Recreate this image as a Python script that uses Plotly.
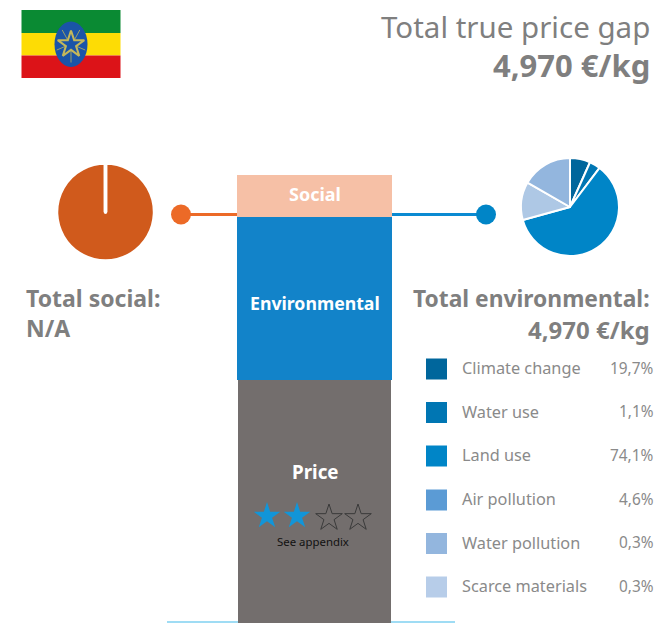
import math
import plotly.graph_objects as go

W, H = 659, 623
GREY = "#7f7f7f"
FONT = "Noto Sans"

bar_names = ["Price", "Environmental", "Social"]
bar_values = [243, 163, 42]
bar_colors = ["#736e6d", "#1283c9", "#f6c0a6"]
bar_widths = [153, 155, 155]

env_labels = ["Climate change", "Water use", "Land use", "Scarce materials", "Water pollution"]
env_values = [6.7, 3.6, 60.4, 12.6, 16.7]
env_colors = ["#00669c", "#0076b3", "#0085c7", "#aec8e5", "#93b6de"]

social_labels = ["Social", "Gap"]
social_values = [99.99, 0.01]

legend_labels = ["Climate change", "Water use", "Land use", "Air pollution", "Water pollution", "Scarce materials"]
legend_values = ["19,7%", "1,1%", "74,1%", "4,6%", "0,3%", "0,3%"]
legend_colors = ["#00669c", "#0076b3", "#0085c7", "#5b9bd5", "#93b6de", "#b7cde9"]
legend_rows = [369, 412.5, 456, 500, 543.5, 587]

star_x = [267, 297, 329, 358]
star_rows = [516, 516, 518, 518]


def Y(p):
    return H - p


def pie_domain(cx, cy, r):
    return dict(x=[(cx - r) / W, (cx + r) / W], y=[1 - (cy + r) / H, 1 - (cy - r) / H])


fig = go.Figure()

for n, v, c, w in zip(bar_names, bar_values, bar_colors, bar_widths):
    fig.add_trace(go.Bar(x=[314.5], y=[v], width=[w], name=n, marker=dict(color=c, line=dict(width=0))))

# connectors
fig.add_trace(go.Scatter(x=[181, 237], y=[Y(214.5)] * 2, mode="lines", line=dict(color="#ec6a27", width=3)))
fig.add_trace(go.Scatter(x=[181], y=[Y(214.5)], mode="markers", marker=dict(color="#ec6a27", size=20)))
fig.add_trace(go.Scatter(x=[392, 486], y=[Y(214.5)] * 2, mode="lines", line=dict(color="#0a8ad2", width=3)))
fig.add_trace(go.Scatter(x=[486], y=[Y(214.5)], mode="markers", marker=dict(color="#0085c7", size=20)))

# rating stars
fig.add_trace(go.Scatter(x=star_x[:2], y=[Y(v) for v in star_rows[:2]], mode="markers",
                         marker=dict(symbol="star", size=20, color="#1295d8", line=dict(width=0))))
fig.add_trace(go.Scatter(x=star_x[2:], y=[Y(v) for v in star_rows[2:]], mode="markers",
                         marker=dict(symbol="star-open", size=20, color="#3a3a3a", line=dict(width=1, color="#3a3a3a"))))

# legend swatches
fig.add_trace(go.Scatter(x=[436.5] * 6, y=[Y(v) for v in legend_rows], mode="markers",
                         marker=dict(symbol="square", size=21, color=legend_colors, line=dict(width=0))))

# flag emblem star
fig.add_trace(go.Scatter(x=[71], y=[Y(44.5)], mode="markers",
                         marker=dict(symbol="star-open", size=20, color="#c4b75a", line=dict(width=2, color="#c4b75a"))))

# pies
fig.add_trace(go.Pie(labels=social_labels, values=social_values, sort=False, direction="clockwise", rotation=0,
                     domain=pie_domain(105.5, 212, 49), textinfo="none", showlegend=False,
                     marker=dict(colors=["#d05a1c", "#ffffff"], line=dict(color="white", width=3.5))))
fig.add_trace(go.Pie(labels=env_labels, values=env_values, sort=False, direction="clockwise", rotation=0,
                     domain=pie_domain(570, 207, 49), textinfo="none", showlegend=False,
                     marker=dict(colors=env_colors, line=dict(color="white", width=2))))


def rect(x0, y0, x1, y1, color):
    return dict(type="rect", xref="x", yref="y", x0=x0, x1=x1, y0=Y(y0), y1=Y(y1),
                fillcolor=color, line=dict(width=0), layer="below")


shapes = [
    rect(21.5, 10, 120.5, 33, "#0a8a33"),
    rect(21.5, 33, 120.5, 55.5, "#fddc05"),
    rect(21.5, 55.5, 120.5, 78, "#dc1318"),
    dict(type="circle", xref="x", yref="y", x0=54.5, x1=87.5, y0=Y(21.5), y1=Y(67),
         fillcolor="#1a54a8", line=dict(width=0), layer="below"),
    # thin line at the bottom of the picture
    dict(type="line", xref="x", yref="y", x0=167, x1=455, y0=Y(622), y1=Y(622),
         line=dict(color="#7fd0f0", width=1.5), layer="below"),
]
# emblem rays
for k in range(5):
    a = math.radians(36 + 72 * k)
    shapes.append(dict(type="line", xref="x", yref="y",
                       x0=71 + 6 * math.sin(a), y0=Y(44.5 - 6 * math.cos(a)),
                       x1=71 + 15 * math.sin(a), y1=Y(44.5 - 18 * math.cos(a)),
                       line=dict(color="#9aa06a", width=1), layer="below"))


def txt(x, y, s, size, color=GREY, bold=False, anchor="left"):
    return dict(x=x, y=Y(y), xref="x", yref="y", text=f"<b>{s}</b>" if bold else s, showarrow=False,
                xanchor=anchor, yanchor="middle", font=dict(family=FONT, size=size, color=color))


ann = [
    txt(652, 26, "Total true price gap", 29.5, anchor="right"),
    txt(652, 65, "4,970 €/kg", 31, bold=True, anchor="right"),
    txt(24, 298, "Total social:", 23, bold=True),
    txt(24, 328, "N/A", 23, bold=True),
    txt(652, 298, "Total environmental:", 22.8, bold=True, anchor="right"),
    txt(652, 329, "4,970 €/kg", 24, bold=True, anchor="right"),
    txt(315, 194, "Social", 18, color="white", bold=True, anchor="center"),
    txt(315, 303, "Environmental", 17.7, color="white", bold=True, anchor="center"),
    txt(315, 472, "Price", 18.8, color="white", bold=True, anchor="center"),
    txt(313, 541, "See appendix", 11.4, color="#111111", anchor="center"),
]
for lab, val, row in zip(legend_labels, legend_values, legend_rows):
    ann.append(txt(460, row - 1, lab, 16.3, color="#8a8a8a"))
    ann.append(txt(656, row - 1, val, 15.4, color="#8a8a8a", anchor="right"))

fig.update_layout(
    width=W, height=H, margin=dict(l=0, r=0, t=0, b=0), barmode="stack", bargap=0,
    showlegend=False, paper_bgcolor="white", plot_bgcolor="white",
    xaxis=dict(range=[0, W], visible=False, fixedrange=True),
    yaxis=dict(range=[0, H], visible=False, fixedrange=True),
    shapes=shapes, annotations=ann,
)
fig.write_html("out.html", config=dict(displayModeBar=False),
               post_script="document.body.style.margin='0';document.documentElement.style.overflow='hidden';")
